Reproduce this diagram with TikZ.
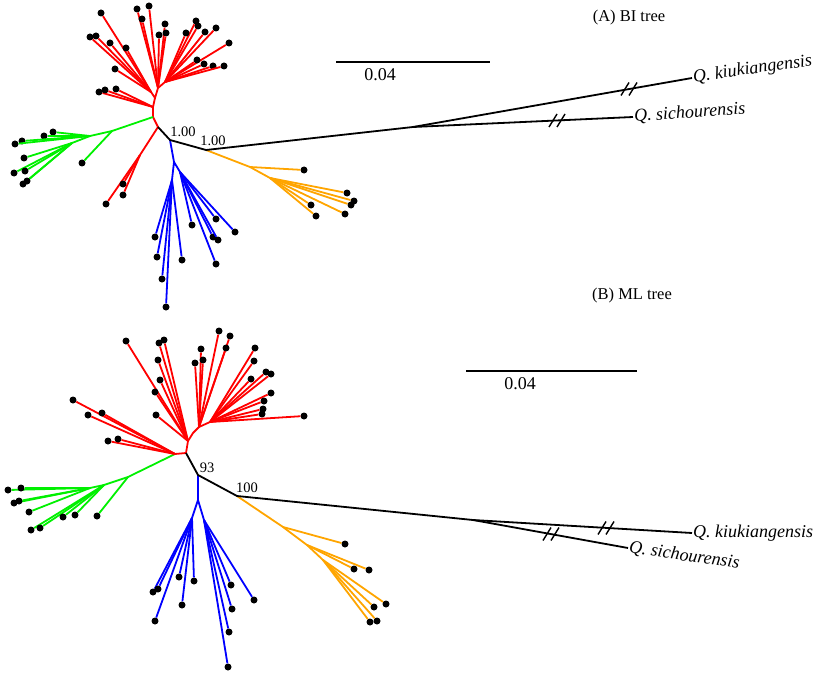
\documentclass[tikz,border=0pt]{standalone}
\usepackage{fontspec}
\setmainfont{Liberation Serif}
\usetikzlibrary{positioning}
\definecolor{clred}{RGB}{255,0,0}
\definecolor{clgreen}{RGB}{0,240,0}
\definecolor{clblue}{RGB}{0,0,255}
\definecolor{clorange}{RGB}{255,165,0}
\tikzset{
    %Define style for branches
    branch/.style={line width=1.8pt, line join=round},
    redbr/.style={branch, draw=clred},
    greenbr/.style={branch, draw=clgreen},
    bluebr/.style={branch, draw=clblue},
    orangebr/.style={branch, draw=clorange},
    blackbr/.style={branch, draw=black},
    %Define style for leaf dots
    leaf/.style={
           circle,
           fill=black,
           inner sep=0pt,
           minimum size=7pt},
    % Define text styles
    supp/.style={font=\fontsize{14.5}{16}\selectfont, inner sep=1pt},
    taxon/.style={font=\fontsize{18}{20}\selectfont\itshape, anchor=west, inner sep=1pt},
    heading/.style={font=\fontsize{16.5}{18}\selectfont},
    scalelab/.style={font=\fontsize{18}{20}\selectfont},
    % break marks on long branches
    brk/.pic={\draw[line width=1.4pt] (-8,6.5) -- (0,-6.5) (0,6.5) -- (8,-6.5);}
}
% leaves hanging from one parent
\newcommand{\tips}[4]{%
  \foreach \x/\y [count=\i] in {#4} {
    \node[leaf] (#2\i) at (\x,\y) {};
    \draw[#3] (#1) -- (#2\i);
  }}

\begin{document}
\begin{tikzpicture}[x=1pt,y=-1pt]
\useasboundingbox (0,0) rectangle (822,674);

 %%% (A) BI tree
 % inner nodes
\coordinate (a0) at (153,117);
\coordinate (a1) at (158,127);
\coordinate (aR1) at (153,107);
\coordinate (aR2) at (155,98);
\coordinate (aR3) at (151,92);
\coordinate (aR4) at (158,88);
\coordinate (aR5) at (165,82);
\coordinate (aRl) at (140,155);
\coordinate (aG1) at (112,131);
\coordinate (aG2) at (90,136);
\coordinate (aG3) at (72,143);
\coordinate (aB1) at (170,140);
\coordinate (aB2) at (206,150);
\coordinate (aS) at (413,127);
\coordinate (aL0) at (174,162);
\coordinate (aL1) at (172,180);
\coordinate (aL2) at (180,172);
\coordinate (aO1) at (250,167);
\coordinate (aO2) at (270,178);

\draw[redbr] (a0) -- (aR1) -- (aR2) -- (aR4) -- (aR5) (aR2) -- (aR3) (a0) -- (a1) -- (aRl);
\draw[greenbr] (a0) -- (aG1) -- (aG2) -- (aG3);
\draw[bluebr] (aB1) -- (aL0) -- (aL1) (aL0) -- (aL2);
\draw[orangebr] (aB2) -- (aO1) -- (aO2);

\tips{aR1}{ara}{redbr}{99/92,105/90,116/89}
\tips{aR3}{arb}{redbr}{101/13,90/37,96/36,110/43,126/48,115/69}
\tips{aR4}{arc}{redbr}{137/9,149/6,142/19,165/24,159/35,166/33}
\tips{aR5}{ard}{redbr}{196/21,198/26,186/33,205/32,216/28,229/43,197/60,204/64,213/66,224/66}
\tips{aRl}{are}{redbr}{106/204,123/184,123/195}
\tips{aG1}{aga}{greenbr}{82/163}
\tips{aG2}{agb}{greenbr}{53/132,44/136,22/141,15/144}
\tips{aG3}{agc}{greenbr}{24/158,14/173,25/171,23/184,27/181}
\tips{aL1}{ala}{bluebr}{155/237,157/257,162/279,166/307,182/260}
\tips{aL2}{alb}{bluebr}{192/225,216/219,213/237,218/240,216/264,235/232}
\tips{aO1}{aoa}{orangebr}{304/170}
\tips{aO2}{aob}{orangebr}{347/193,354/201,351/205,345/214,311/205,316/216}

\node[taxon, rotate=8] (kiuA) at (692,78) {Q. kiukiangensis};
\node[taxon, rotate=4] (sichA) at (633,117) {Q. sichourensis};
\draw[blackbr] (a1) -- (aB1) -- (aB2) -- (aS);
\draw[blackbr] (aS) -- (kiuA.west);
\draw[blackbr] (aS) -- (sichA.west);
\pic at (629,89) {brk};
\pic at (557,120.5) {brk};

\node[supp] (sa1) at (183,132) {1.00};
\node[supp] (sa2) at (213,141) {1.00};

\node[heading] (titA) at (629,18) {(A) BI tree};
\coordinate (sca1) at (336,62);
\coordinate (sca2) at (490,62);
\draw[line width=1.6pt] (sca1) -- (sca2);
\node[scalelab] (scaA) at (380,75) {0.04};

 %%% (B) ML tree
 % inner nodes
\coordinate (b0) at (175,454);
\coordinate (b1) at (186,453);
\coordinate (bR1) at (188,441);
\coordinate (bR2) at (193,433);
\coordinate (bR3) at (199,427);
\coordinate (bR4) at (210,422);
\coordinate (bG1) at (128,477);
\coordinate (bG2) at (104,485);
\coordinate (bG3) at (90,488);
\coordinate (bB1) at (198,475);
\coordinate (bB2) at (237,496);
\coordinate (bS) at (473,520);
\coordinate (bL0) at (198,500);
\coordinate (bL1) at (192,518);
\coordinate (bL2) at (204,520);
\coordinate (bO1) at (283,527);
\coordinate (bO2) at (307,545);
\coordinate (bO3) at (323,560);

\draw[redbr] (b0) -- (b1) -- (bR1) -- (bR2) -- (bR3) -- (bR4);
\draw[greenbr] (b0) -- (bG1) -- (bG2) -- (bG3);
\draw[bluebr] (bB1) -- (bL0) -- (bL1) (bL0) -- (bL2);
\draw[orangebr] (bB2) -- (bO1) -- (bO2) -- (bO3);

\tips{b0}{bra}{redbr}{73/400,102/413,88/415,108/441,118/439}
\tips{bR1}{brb}{redbr}{126/341,159/343,164/340,158/360,160/380,155/392,156/415}
\tips{bR3}{brc}{redbr}{195/363,201/349,203/360,219/331,230/336,226/348}
\tips{bR4}{brd}{redbr}{255/348,254/361,251/379,266/372,271/374,271/393,264/401,263/409,262/414,304/416}
\tips{bG1}{bga}{greenbr}{97/516}
\tips{bG2}{bgb}{greenbr}{31/530,40/528,63/517,75/515}
\tips{bG3}{bgc}{greenbr}{8/490,21/488,14/503,19/501,29/512}
\tips{bL1}{bla}{bluebr}{153/592,158/589,155/621,179/577,182/605,194/581}
\tips{bL2}{blb}{bluebr}{231/585,232/609,229/632,228/667,254/600}
\tips{bO1}{boa}{orangebr}{345/544}
\tips{bO2}{bob}{orangebr}{354/569,369/570}
\tips{bO3}{boc}{orangebr}{386/604,374/607,377/621,370/622}

\node[taxon] (kiuB) at (692,533) {Q. kiukiangensis};
\node[taxon, rotate=-8] (sichB) at (628,548) {Q. sichourensis};
\draw[blackbr] (b1) -- (bB1) -- (bB2) -- (bS);
\draw[blackbr] (bS) -- (kiuB.west);
\draw[blackbr] (bS) -- (sichB.west);
\pic at (606,528) {brk};
\pic at (551,534) {brk};

\node[supp] (sb1) at (207,468) {93};
\node[supp] (sb2) at (247,488) {100};

\node[heading] (titB) at (632,296) {(B) ML tree};
\coordinate (scb1) at (466,371);
\coordinate (scb2) at (637,371);
\draw[line width=1.6pt] (scb1) -- (scb2);
\node[scalelab] (scaB) at (520,384) {0.04};

\end{tikzpicture}
\end{document}
